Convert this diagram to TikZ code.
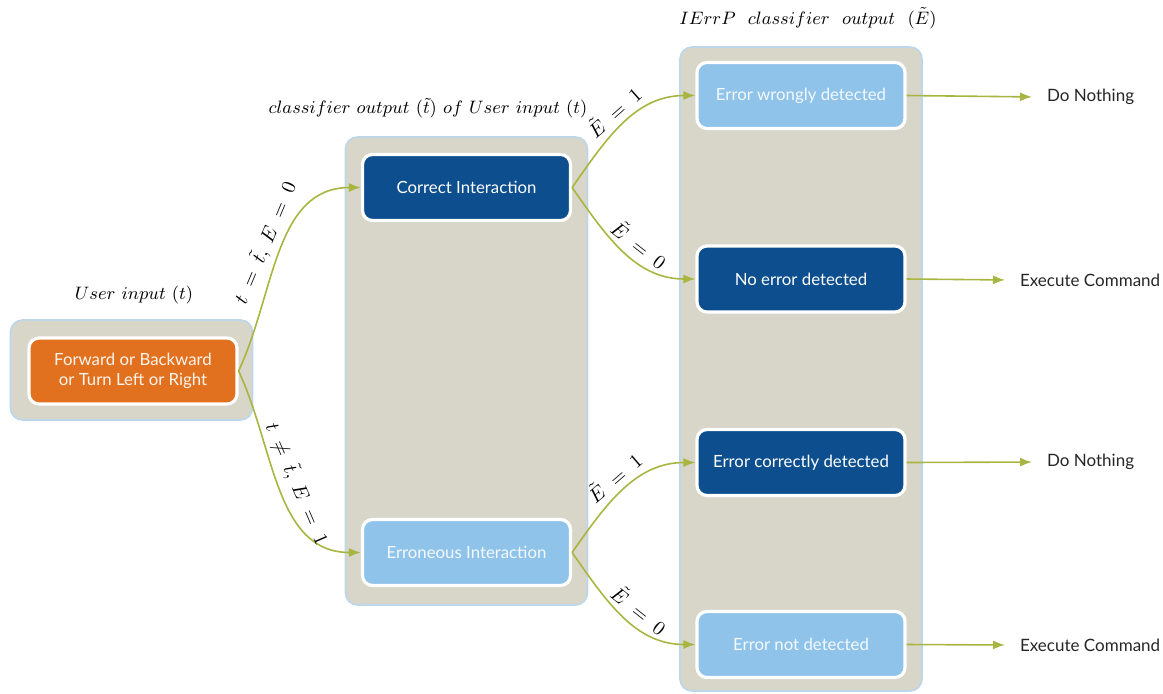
\documentclass[tikz,border=0pt]{standalone}
\usepackage{fontspec}
\setsansfont{Lato}
\usetikzlibrary{arrows.meta}
\definecolor{panelgray}{HTML}{D8D5C9}
\definecolor{panelline}{HTML}{BCD6EA}
\definecolor{darkblue}{HTML}{0C4E8E}
\definecolor{lightblue}{HTML}{8FC3EA}
\definecolor{orangebox}{HTML}{E2711F}
\definecolor{flowgreen}{HTML}{A9B541}
\begin{document}
\begin{tikzpicture}[x=0.5pt,y=0.5pt,
  panel/.style={draw=panelline,line width=0.8pt,fill=panelgray,rounded corners=6pt,minimum width=121pt},
  box/.style={draw=white,line width=1.6pt,rounded corners=5pt,minimum width=104pt,minimum height=33pt,
    font=\sffamily\fontsize{8.4}{10}\selectfont,align=center,text=white},
  dark box/.style={box,fill=darkblue},
  light box/.style={box,fill=lightblue,text=white!90!lightblue},
  title/.style={font=\fontsize{9}{11}\selectfont},
  result/.style={font=\sffamily\fontsize{8.5}{10}\selectfont,text=black!85,anchor=west},
  flow/.style={draw=flowgreen,line width=0.8pt,-{Latex[length=6pt,width=4.5pt]}},
  lbl/.style={sloped,font=\fontsize{10}{12}\selectfont,inner sep=3pt}]

  \useasboundingbox (0,0) rectangle (1163,-693);

  % panels
  \node[panel,minimum height=50pt] (p1) at (131.5,-370) {};
  \node[panel,minimum height=234pt] (p2) at (466.5,-371) {};
  \node[panel,minimum height=322pt] (p3) at (801,-369) {};

  % titles
  \node[title] (t1) at (134,-295) {$User\ input\ (t)$};
  \node[title] (t2) at (428,-108) {$classifier\ output\ (\tilde{t})\ of\ User\ input\ (t)$};
  \node[title] (t3) at (808,-18) {$IErrP\ \ classifier\ \ output\ \ (\tilde{E})$};

  % boxes
  \node[box,fill=orangebox,text=white!92!orangebox] (in) at (133,-371) {Forward or Backward\\or Turn Left or Right};
  \node[dark box] (ci) at (466.5,-187.5) {Correct Interaction};
  \node[light box] (ei) at (466.5,-552.5) {Erroneous Interaction};
  \node[light box] (wd) at (801,-95.5) {Error wrongly detected};
  \node[dark box] (nd) at (801,-279) {No error detected};
  \node[dark box] (cd) at (801,-462.5) {Error correctly detected};
  \node[light box] (un) at (801,-644.5) {Error not detected};

  % results
  \node[result] (r1) at (1040,-97) {Do Nothing};
  \node[result] (r2) at (1013,-280) {Execute Command};
  \node[result] (r3) at (1040,-462) {Do Nothing};
  \node[result] (r4) at (1013,-645) {Execute Command};

  \path[every edge/.style={flow}]
   (in.east) edge[out=65,in=180] node[lbl,pos=0.5,above]{$t\;=\;\tilde{t},\;E\;=\;0$} (ci.west)
   (in.east) edge[out=-65,in=180] node[lbl,pos=0.5,above]{$t\;\neq\;\tilde{t},\;E\;=\;1$} (ei.west)
   (ci.east) edge[out=55,in=180] node[lbl,pos=0.5,above]{$\tilde{E}\;=\;1$} (wd.west)
   (ci.east) edge[out=-55,in=180] node[lbl,pos=0.55,above]{$\tilde{E}\;=\;0$} (nd.west)
   (ei.east) edge[out=55,in=180] node[lbl,pos=0.5,above]{$\tilde{E}\;=\;1$} (cd.west)
   (ei.east) edge[out=-55,in=180] node[lbl,pos=0.55,above]{$\tilde{E}\;=\;0$} (un.west);

  \path[every edge/.style={flow,shorten >=4pt}]
   (wd.east) edge (r1.west)
   (nd.east) edge (r2.west)
   (cd.east) edge (r3.west)
   (un.east) edge (r4.west);
\end{tikzpicture}
\end{document}
